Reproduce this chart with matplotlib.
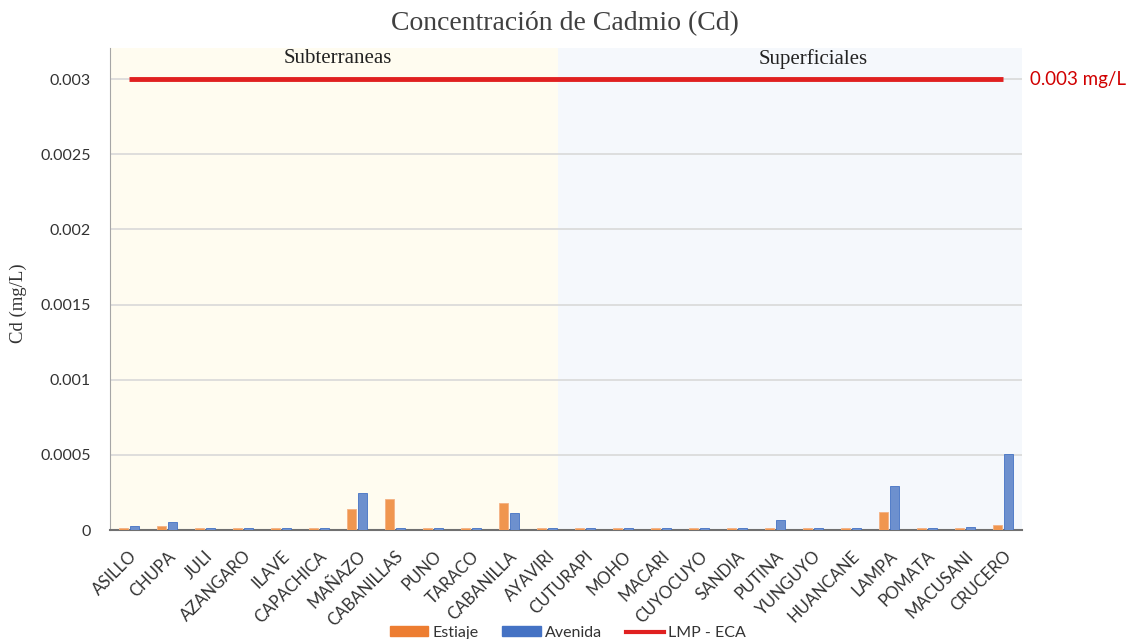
import matplotlib
matplotlib.use("Agg")
import matplotlib.pyplot as plt
from matplotlib.patches import Patch
from matplotlib.lines import Line2D
import numpy as np

categories = ["ASILLO", "CHUPA", "JULI", "AZANGARO", "ILAVE", "CAPACHICA", "MAÑAZO",
              "CABANILLAS", "PUNO", "TARACO", "CABANILLA", "AYAVIRI", "CUTURAPI", "MOHO",
              "MACARI", "CUYOCUYO", "SANDIA", "PUTINA", "YUNGUYO", "HUANCANE", "LAMPA",
              "POMATA", "MACUSANI", "CRUCERO"]
estiaje = [0.00001, 0.000025, 0.00001, 0.00001, 0.000015, 0.000015, 0.00014,
           0.000205, 0.00001, 0.000015, 0.000178, 0.00001, 0.00001, 0.00001,
           0.00001, 0.00001, 0.00001, 0.00001, 0.00001, 0.00001, 0.000122,
           0.00001, 0.00001, 0.000031]
avenida = [0.000025, 0.00005, 0.00001, 0.00001, 0.000015, 0.000015, 0.000243,
           0.00001, 0.00001, 0.00001, 0.000113, 0.00001, 0.00001, 0.00001,
           0.00001, 0.00001, 0.00001, 0.000064, 0.00001, 0.00001, 0.000293,
           0.00001, 0.000018, 0.000504]
lmp = 0.003
yticks = [0, 0.0005, 0.001, 0.0015, 0.002, 0.0025, 0.003]
ytick_labels = ["0", "0.0005", "0.001", "0.0015", "0.002", "0.0025", "0.003"]
series_names = ["Estiaje", "Avenida", "LMP - ECA"]
group_names = ["Subterraneas", "Superficiales"]

fig = plt.figure(figsize=(11.29, 6.39), dpi=100)
ax = fig.add_axes([110/1129, 1-530/639, (1022-110)/1129, (530-48)/639])

x = np.arange(len(categories))
n = len(categories)
ax.set_xlim(-0.5, n - 0.5)
ax.set_ylim(0, 0.003207)

# background regions
ax.axvspan(-0.5, 11.3, color="#FFFCF0", zorder=0, lw=0)
ax.axvspan(11.3, n - 0.5, color="#F5F8FC", zorder=0, lw=0)

for t in yticks[1:]:
    ax.axhline(t, color="#D9D9D9", lw=1.2, zorder=1)

w = 0.22
ax.bar(x - 0.145, estiaje, width=w, color="#F0964F", edgecolor="#F4B183", lw=0.6, zorder=3)
ax.bar(x + 0.145, avenida, width=w, color="#6D90CE", edgecolor="#4472C4", lw=0.6, zorder=3)
ax.plot([0, n - 1], [lmp, lmp], color="#E02020", lw=3.5, zorder=4, solid_capstyle="butt")

ax.set_yticks(yticks)
ax.set_yticklabels(ytick_labels, fontsize=11.5, color="#333333", family="Lato")
ax.set_xticks(x)
ax.set_xticklabels(categories, rotation=45, ha="right", rotation_mode="anchor",
                   fontsize=12, color="#333333", family="Lato")
ax.tick_params(axis="x", length=0, pad=13)
ax.tick_params(axis="y", length=0, pad=14)

for s in ["top", "right"]:
    ax.spines[s].set_visible(False)
ax.spines["left"].set_color("#A6A6A6")
ax.spines["bottom"].set_color("#707070")
ax.spines["bottom"].set_linewidth(1.5)

fig.text(18/1129, 1 - 303/639, "Cd (mg/L)", rotation=90, ha="center", va="center",
         family="Liberation Serif", fontsize=13.5, color="#333333")

fig.text(0.5, 1 - 24/639, "Concentración de Cadmio (Cd)", ha="center", va="center",
         family="Liberation Serif", fontsize=20, color="#404040")
ax.text(5.5, 0.003135, group_names[0], ha="center", va="center",
        family="Liberation Serif", fontsize=15, color="#222222")
ax.text(18.0, 0.003135, group_names[1], ha="center", va="center",
        family="Liberation Serif", fontsize=15, color="#222222")
fig.text(1030/1129, 1 - 79/639, "0.003 mg/L", ha="left", va="center",
         family="Lato", fontsize=13.5, color="#D00000")

handles = [Patch(facecolor="#ED7D31", edgecolor="#ED7D31"),
           Patch(facecolor="#4472C4", edgecolor="#4472C4"),
           Line2D([0], [0], color="#E02020", lw=3)]
fig.legend(handles, series_names, loc="center", bbox_to_anchor=(0.503, 1 - 633/639),
           ncol=3, frameon=False, handlelength=2.4, handleheight=0.6,
           columnspacing=1.5, handletextpad=0.25,
           prop={"family": "Lato", "size": 11.5})
for t in fig.legends[0].get_texts():
    t.set_color("#333333")

fig.savefig("out.png", dpi=100)
